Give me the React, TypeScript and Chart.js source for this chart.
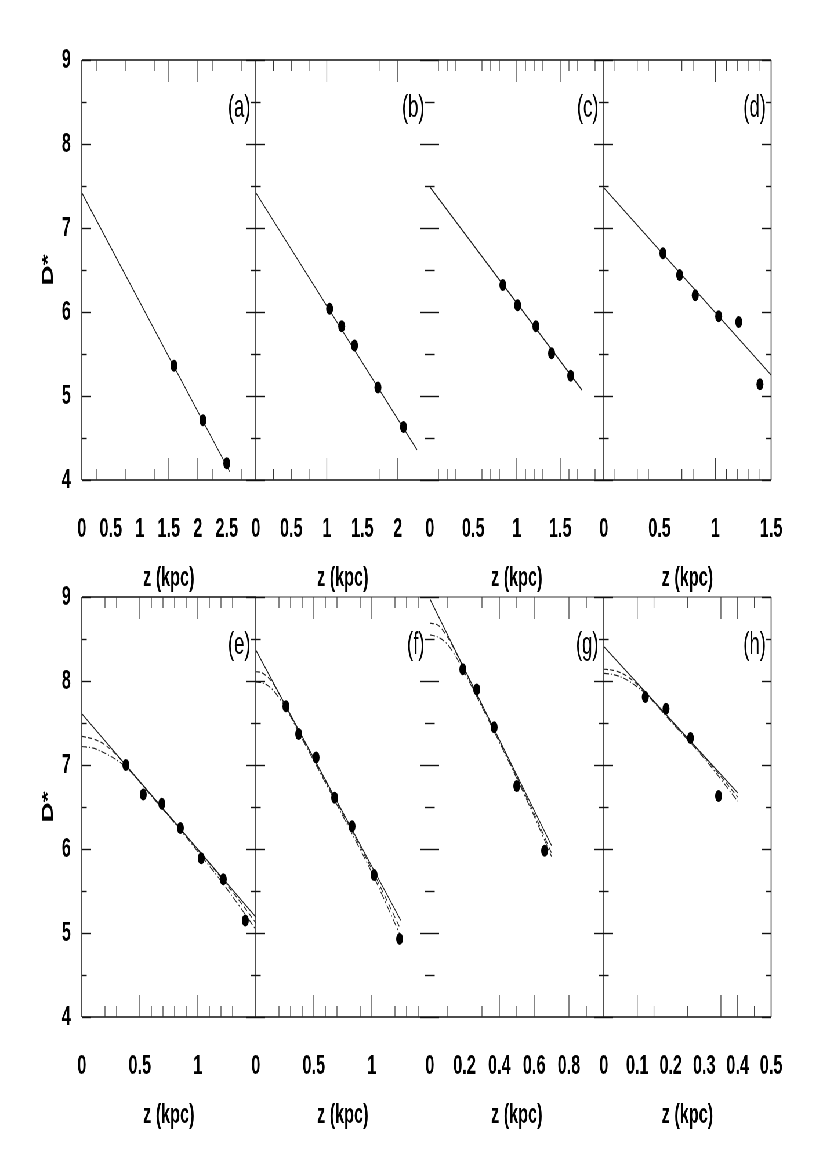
import React, { useEffect, useRef } from "react";
import { Chart, registerables } from "chart.js";

Chart.register(...registerables);

// ---------------- data ----------------
const panelLetters = ["(a)", "(b)", "(c)", "(d)", "(e)", "(f)", "(g)", "(h)"];
const xMaxima = [3, 2.45, 2, 1.5, 1.5, 1.5, 1, 0.5];

const yTickLabels = [4, 5, 6, 7, 8, 9];
const yHalfTicks = [4.5, 5.5, 6.5, 7.5, 8.5];

const xLabelsA = [0, 0.5, 1, 1.5, 2, 2.5];
const xLabelsB = [0, 0.5, 1, 1.5, 2];
const xLabelsC = [0, 0.5, 1, 1.5];
const xLabelsD = [0, 0.5, 1, 1.5];
const xLabelsE = [0, 0.5, 1];
const xLabelsF = [0, 0.5, 1];
const xLabelsG = [0, 0.2, 0.4, 0.6, 0.8];
const xLabelsH = [0, 0.1, 0.2, 0.3, 0.4, 0.5];

const xMajorA = [1.5, 2];
const xMinorA = [0.25, 0.75, 1.25, 2.25, 2.75];
const xMajorB = [1, 2];
const xMinorB = [0.25, 0.5, 0.75, 1.75];
const xMajorC = [1, 1.5];
const xMinorC = [0.1, 0.2, 0.3, 0.6, 0.7, 0.8, 1.1, 1.2, 1.3, 1.6, 1.7, 1.9];
const xMajorD = [1];
const xMinorD = [0.1, 0.3, 0.4, 0.7, 0.8, 1.1, 1.2, 1.3, 1.4];
const xMajorE = [0.5, 1];
const xMinorE = [0.2, 0.3, 0.6, 0.7, 0.8, 0.9, 1.1, 1.2, 1.3];
const xMajorF = [0.5, 1];
const xMinorF = [0.2, 0.3, 0.4, 0.6, 0.7, 0.9, 1.2, 1.3, 1.4];
const xMajorG = [0.4, 0.6, 0.8];
const xMinorG = [0.1, 0.3, 0.5, 0.9];
const xMajorH = [0.1, 0.35, 0.4];
const xMinorH = [0.15, 0.25, 0.45];

// panel (a)
const zA = [1.59, 2.09, 2.5];
const dA = [5.36, 4.71, 4.2];
const fitZA = [0, 2.55];
const fitDA = [7.42, 4.1];
// panel (b)
const zB = [1.04, 1.21, 1.39, 1.72, 2.08];
const dB = [6.04, 5.83, 5.6, 5.1, 4.63];
const fitZB = [0, 2.27];
const fitDB = [7.42, 4.36];
// panel (c)
const zC = [0.84, 1.01, 1.22, 1.4, 1.62];
const dC = [6.32, 6.08, 5.83, 5.51, 5.24];
const fitZC = [0, 1.75];
const fitDC = [7.49, 5.07];
// panel (d)
const zD = [0.53, 0.68, 0.82, 1.03, 1.21, 1.4];
const dD = [6.7, 6.44, 6.2, 5.95, 5.88, 5.14];
const fitZD = [0, 1.5];
const fitDD = [7.48, 5.25];
// panel (e)
const zE = [0.38, 0.53, 0.69, 0.85, 1.03, 1.22, 1.41];
const dE = [7.0, 6.65, 6.54, 6.25, 5.89, 5.64, 5.15];
const fitZE = [0, 1.5];
const fitDE = [7.61, 5.19];
const curveZE = [0, 0.1, 0.2, 0.3, 0.4, 0.6, 0.8, 1.0, 1.2, 1.4, 1.5];
const dashDE = [7.34, 7.31, 7.24, 7.12, 6.96, 6.64, 6.32, 5.99, 5.66, 5.31, 5.12];
const dotDE = [7.22, 7.2, 7.14, 7.06, 6.95, 6.63, 6.31, 5.97, 5.62, 5.24, 5.04];
// panel (f)
const zF = [0.26, 0.37, 0.52, 0.68, 0.83, 1.02, 1.24];
const dF = [7.7, 7.37, 7.09, 6.61, 6.27, 5.69, 4.93];
const fitZF = [0, 1.25];
const fitDF = [8.37, 5.15];
const curveZF = [0, 0.05, 0.1, 0.15, 0.2, 0.25, 0.4, 0.6, 0.8, 1.0, 1.24];
const dashDF = [8.11, 8.1, 8.05, 7.97, 7.85, 7.72, 7.33, 6.81, 6.29, 5.76, 5.07];
const dotDF = [7.99, 7.98, 7.95, 7.89, 7.8, 7.7, 7.31, 6.79, 6.26, 5.72, 4.99];
// panel (g)
const zG = [0.19, 0.27, 0.37, 0.5, 0.66];
const dG = [8.14, 7.9, 7.45, 6.75, 5.98];
const fitZG = [0, 0.7];
const fitDG = [8.98, 6.04];
const curveZG = [0, 0.05, 0.1, 0.15, 0.2, 0.3, 0.4, 0.5, 0.6, 0.7];
const dashDG = [8.69, 8.66, 8.53, 8.34, 8.13, 7.71, 7.29, 6.86, 6.42, 5.95];
const dotDG = [8.55, 8.52, 8.44, 8.29, 8.1, 7.69, 7.27, 6.84, 6.39, 5.91];
// panel (h)
const zH = [0.124, 0.186, 0.259, 0.343];
const dH = [7.81, 7.67, 7.32, 6.63];
const fitZH = [0, 0.4];
const fitDH = [8.41, 6.67];
const curveZH = [0, 0.025, 0.05, 0.075, 0.1, 0.125, 0.2, 0.3, 0.4];
const dashDH = [8.14, 8.13, 8.1, 8.04, 7.96, 7.86, 7.53, 7.1, 6.62];
const dotDH = [8.09, 8.08, 8.05, 8.0, 7.93, 7.85, 7.52, 7.08, 6.57];

// ---------------- layout / style ----------------
const SQUEEZE = 0.58; // the original figure is horizontally compressed
const FONT = '"Liberation Sans", Arial, Helvetica, sans-serif';
const AREA_W = 300;
const AREA_H = 420;
const LEFT0 = 141;
const PAD = 40;
const X_AXIS_H = 115;
const ROW_TOP = [20, 557];

type Pair = [number[], number[]];
type PanelSpec = {
  idx: number;
  row: number;
  col: number;
  xLabels: number[];
  xMajor: number[];
  xMinor: number[];
  points: Pair;
  fit: Pair;
  dashed?: Pair;
  dashDot?: Pair;
  leftLine: boolean;
  topColor: string;
};

const specs: PanelSpec[] = [
  { idx: 0, row: 0, col: 0, xLabels: xLabelsA, xMajor: xMajorA, xMinor: xMinorA, points: [zA, dA], fit: [fitZA, fitDA], leftLine: true, topColor: "#111" },
  { idx: 1, row: 0, col: 1, xLabels: xLabelsB, xMajor: xMajorB, xMinor: xMinorB, points: [zB, dB], fit: [fitZB, fitDB], leftLine: true, topColor: "#111" },
  { idx: 2, row: 0, col: 2, xLabels: xLabelsC, xMajor: xMajorC, xMinor: xMinorC, points: [zC, dC], fit: [fitZC, fitDC], leftLine: false, topColor: "#111" },
  { idx: 3, row: 0, col: 3, xLabels: xLabelsD, xMajor: xMajorD, xMinor: xMinorD, points: [zD, dD], fit: [fitZD, fitDD], leftLine: true, topColor: "#111" },
  { idx: 4, row: 1, col: 0, xLabels: xLabelsE, xMajor: xMajorE, xMinor: xMinorE, points: [zE, dE], fit: [fitZE, fitDE], dashed: [curveZE, dashDE], dashDot: [curveZE, dotDE], leftLine: true, topColor: "#111" },
  { idx: 5, row: 1, col: 1, xLabels: xLabelsF, xMajor: xMajorF, xMinor: xMinorF, points: [zF, dF], fit: [fitZF, fitDF], dashed: [curveZF, dashDF], dashDot: [curveZF, dotDF], leftLine: true, topColor: "#777" },
  { idx: 6, row: 1, col: 2, xLabels: xLabelsG, xMajor: xMajorG, xMinor: xMinorG, points: [zG, dG], fit: [fitZG, fitDG], dashed: [curveZG, dashDG], dashDot: [curveZG, dotDG], leftLine: false, topColor: "#777" },
  { idx: 7, row: 1, col: 3, xLabels: xLabelsH, xMajor: xMajorH, xMinor: xMinorH, points: [zH, dH], fit: [fitZH, fitDH], dashed: [curveZH, dashDH], dashDot: [curveZH, dotDH], leftLine: true, topColor: "#777" },
];

const toXY = (p: Pair) => p[0].map((x, i) => ({ x, y: p[1][i] }));

const framePlugin = {
  id: "frame",
  afterDraw(chart: any, _args: any, opts: any) {
    const { ctx, chartArea: a, scales } = chart;
    const x = scales.x;
    const y = scales.y;
    const line = (x1: number, y1: number, x2: number, y2: number) => {
      ctx.beginPath();
      ctx.moveTo(x1, y1);
      ctx.lineTo(x2, y2);
      ctx.stroke();
    };
    ctx.save();
    // horizontal frame lines
    ctx.lineWidth = 1.4;
    ctx.strokeStyle = opts.topColor;
    line(a.left, a.top, a.right, a.top);
    ctx.strokeStyle = "#111";
    line(a.left, a.bottom, a.right, a.bottom);
    // vertical frame lines
    ctx.lineWidth = 1.6;
    ctx.strokeStyle = "#222";
    if (opts.leftLine) line(a.left, a.top, a.left, a.bottom);
    if (opts.last) line(a.right, a.top, a.right, a.bottom);
    // y ticks
    ctx.lineWidth = 1.4;
    ctx.strokeStyle = "#111";
    const yt = (v: number, len: number) => {
      const py = Math.round(y.getPixelForValue(v)) + 0.5;
      line(a.left - (opts.first ? 0 : len), py, a.left + len, py);
      if (opts.last) line(a.right - len, py, a.right, py);
    };
    yTickLabels.forEach((v) => yt(v, 16));
    yHalfTicks.forEach((v) => yt(v, 8.5));
    // x ticks (top and bottom)
    ctx.lineWidth = 1.2;
    ctx.strokeStyle = "#333";
    const xt = (v: number, len: number) => {
      const px = x.getPixelForValue(v);
      line(px, a.top, px, a.top + len);
      line(px, a.bottom, px, a.bottom - len);
    };
    opts.major.forEach((v: number) => xt(v, 22));
    opts.minor.forEach((v: number) => xt(v, 11));
    // panel letter
    ctx.fillStyle = "#000";
    ctx.font = `32px ${FONT}`;
    ctx.textAlign = "right";
    ctx.textBaseline = "middle";
    ctx.fillText(opts.letter, a.right - 9, a.top + 48);
    ctx.restore();
  },
};

function Panel({ spec }: { spec: PanelSpec }) {
  const ref = useRef<HTMLCanvasElement>(null);
  const first = spec.col === 0;
  const last = spec.col === 3;
  const areaLeft = LEFT0 + AREA_W * spec.col;
  const left = first ? 0 : areaLeft - PAD;
  const width = (first ? LEFT0 : PAD) + AREA_W + PAD;
  const top = ROW_TOP[spec.row];
  const height = PAD + AREA_H + X_AXIS_H;

  useEffect(() => {
    const font = { family: FONT, size: 28, weight: "bold" as const };
    const datasets: any[] = [
      {
        data: toXY(spec.points),
        showLine: false,
        pointRadius: 6,
        pointBackgroundColor: "#000",
        pointBorderWidth: 0,
        order: 0,
      },
      {
        data: toXY(spec.fit),
        showLine: true,
        pointRadius: 0,
        borderColor: "#1a1a1a",
        borderWidth: 1.3,
        order: 1,
      },
    ];
    if (spec.dashed) {
      datasets.push({
        data: toXY(spec.dashed),
        showLine: true,
        pointRadius: 0,
        borderColor: "#222",
        borderWidth: 1.2,
        borderDash: [7, 4],
        cubicInterpolationMode: "monotone",
        order: 2,
      });
    }
    if (spec.dashDot) {
      datasets.push({
        data: toXY(spec.dashDot),
        showLine: true,
        pointRadius: 0,
        borderColor: "#222",
        borderWidth: 1.2,
        borderDash: [9, 3, 2, 3],
        cubicInterpolationMode: "monotone",
        order: 3,
      });
    }
    const chart = new Chart(ref.current as HTMLCanvasElement, {
      type: "scatter",
      data: { datasets },
      plugins: [framePlugin as any],
      options: {
        animation: false,
        responsive: false,
        maintainAspectRatio: false,
        devicePixelRatio: 1,
        events: [],
        layout: { padding: { left: first ? 0 : PAD, right: PAD, top: PAD, bottom: 0 } },
        plugins: {
          legend: { display: false },
          tooltip: { enabled: false },
          frame: {
            letter: panelLetters[spec.idx],
            major: spec.xMajor,
            minor: spec.xMinor,
            leftLine: spec.leftLine,
            topColor: spec.topColor,
            first,
            last,
          },
        } as any,
        scales: {
          x: {
            type: "linear",
            min: 0,
            max: xMaxima[spec.idx],
            grid: { display: false, drawTicks: false },
            border: { display: false },
            afterBuildTicks: (s: any) => {
              s.ticks = spec.xLabels.map((v) => ({ value: v }));
            },
            afterFit: (s: any) => {
              s.height = X_AXIS_H;
            },
            ticks: {
              padding: 32,
              color: "#000",
              font,
              autoSkip: false,
              maxRotation: 0,
              callback: (v: any) => String(Number(v)),
            },
            title: { display: true, text: "z (kpc)", color: "#000", font, padding: 0 },
          },
          y: {
            type: "linear",
            min: 4,
            max: 9,
            grid: { display: false, drawTicks: false },
            border: { display: false },
            afterBuildTicks: (s: any) => {
              s.ticks = yTickLabels.map((v) => ({ value: v }));
            },
            afterFit: (s: any) => {
              s.width = first ? LEFT0 : 0;
            },
            ticks: {
              display: first,
              padding: 19,
              color: "#000",
              font,
              callback: (v: any) => String(Number(v)),
            },
            title: {
              display: first,
              text: "D*",
              color: "#000",
              font,
              padding: { top: 66, bottom: 0 },
            },
          },
        },
      } as any,
    });
    return () => chart.destroy();
  }, []);

  return (
    <canvas
      ref={ref}
      width={width}
      height={height}
      style={{ position: "absolute", left, top, width, height }}
    />
  );
}

export default function App() {
  return (
    <div
      style={{
        position: "absolute",
        left: 0,
        top: 0,
        width: 827,
        height: 1170,
        overflow: "hidden",
        background: "#fff",
      }}
    >
      <div
        style={{
          position: "absolute",
          left: 0,
          top: 0,
          width: Math.ceil(827 / SQUEEZE),
          height: 1170,
          transform: `scaleX(${SQUEEZE})`,
          transformOrigin: "0 0",
        }}
      >
        {specs.map((s) => (
          <Panel key={s.idx} spec={s} />
        ))}
      </div>
    </div>
  );
}
